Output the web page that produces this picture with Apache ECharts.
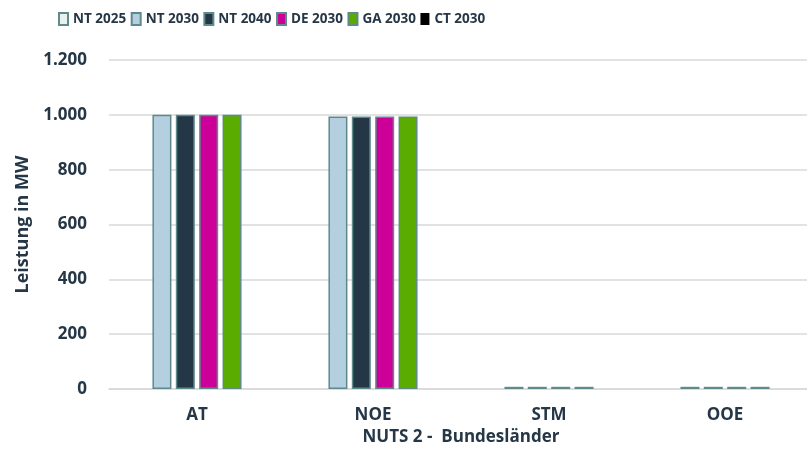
<!DOCTYPE html>
<html>
<head>
<meta charset="utf-8">
<script src="https://cdn.jsdelivr.net/npm/echarts@6/dist/echarts.min.js"></script>
<style>
  html, body { margin: 0; padding: 0; background: #fff; }
  #chart { width: 807px; height: 452px; }
</style>
</head>
<body>
<div id="chart"></div>
<script>
// Installed capacity per NUTS 2 region and scenario (MW)
const categories = ['AT', 'NOE', 'STM', 'OOE'];
const seriesNames = ['NT 2025', 'NT 2030', 'NT 2040', 'DE 2030', 'GA 2030', 'CT 2030'];
const nt2025 = [null, null, null, null];
const nt2030 = [1000, 994, 8, 8];
const nt2040 = [1000, 994, 8, 8];
const de2030 = [1000, 994, 8, 8];
const ga2030 = [1000, 994, 8, 8];
const ct2030 = [null, null, null, null];
const yTicks = { min: 0, max: 1200, interval: 200 };

const seriesValues = [nt2025, nt2030, nt2040, de2030, ga2030, ct2030];
const colors = ['#e8f0f0', '#b4cfe0', '#243746', '#cc0099', '#5aac00', '#000000'];
const borderColor = '#5f8a8a';
const textColor = '#253746';
const fontFamily = '"Open Sans", "DejaVu Sans", sans-serif';

// German thousands separator: 1200 -> 1.200
const fmt = v => String(v).replace(/\B(?=(\d{3})+(?!\d))/g, '.');

const chart = echarts.init(document.getElementById('chart'), null, { renderer: 'canvas' });

chart.setOption({
  animation: false,
  backgroundColor: '#ffffff',
  legend: {
    left: 53,
    top: 7,
    itemWidth: 9,
    itemHeight: 12,
    itemGap: 4.5,
    itemTextGap: 4,
    icon: 'rect',
    textStyle: {
      color: textColor,
      fontFamily,
      fontWeight: 'bold',
      fontSize: 13.5
    },
    data: seriesNames
  },
  grid: {
    left: 109,
    top: 60,
    width: 704,
    bottom: 63,
    outerBoundsMode: 'none',
    containLabel: false
  },
  xAxis: {
    type: 'category',
    data: categories,
    name: 'NUTS 2 -  Bundesländer',
    nameLocation: 'middle',
    nameGap: 40,
    nameTextStyle: { color: textColor, fontFamily, fontWeight: 'bold', fontSize: 17 },
    axisLine: { lineStyle: { color: '#d9d9d9', width: 1.5 } },
    axisTick: { show: false },
    axisLabel: { color: textColor, fontFamily, fontWeight: 'bold', fontSize: 17, margin: 18 }
  },
  yAxis: {
    type: 'value',
    min: yTicks.min,
    max: yTicks.max,
    interval: yTicks.interval,
    name: 'Leistung in MW',
    nameLocation: 'middle',
    nameGap: 76,
    nameRotate: 90,
    nameTextStyle: { color: textColor, fontFamily, fontWeight: 'bold', fontSize: 18 },
    axisLine: { show: false },
    axisTick: { show: false },
    splitLine: { lineStyle: { color: '#d9d9d9', width: 1.5 } },
    axisLabel: { color: textColor, fontFamily, fontWeight: 'bold', fontSize: 17, margin: 22, formatter: fmt }
  },
  series: seriesNames.map((name, i) => ({
    name,
    type: 'bar',
    data: seriesValues[i],
    barWidth: 19,
    barGap: '23%',
    itemStyle: {
      color: colors[i],
      borderColor: i === 5 ? colors[i] : borderColor,
      borderWidth: i === 5 ? 0 : 1.5
    }
  }))
});
</script>
</body>
</html>
